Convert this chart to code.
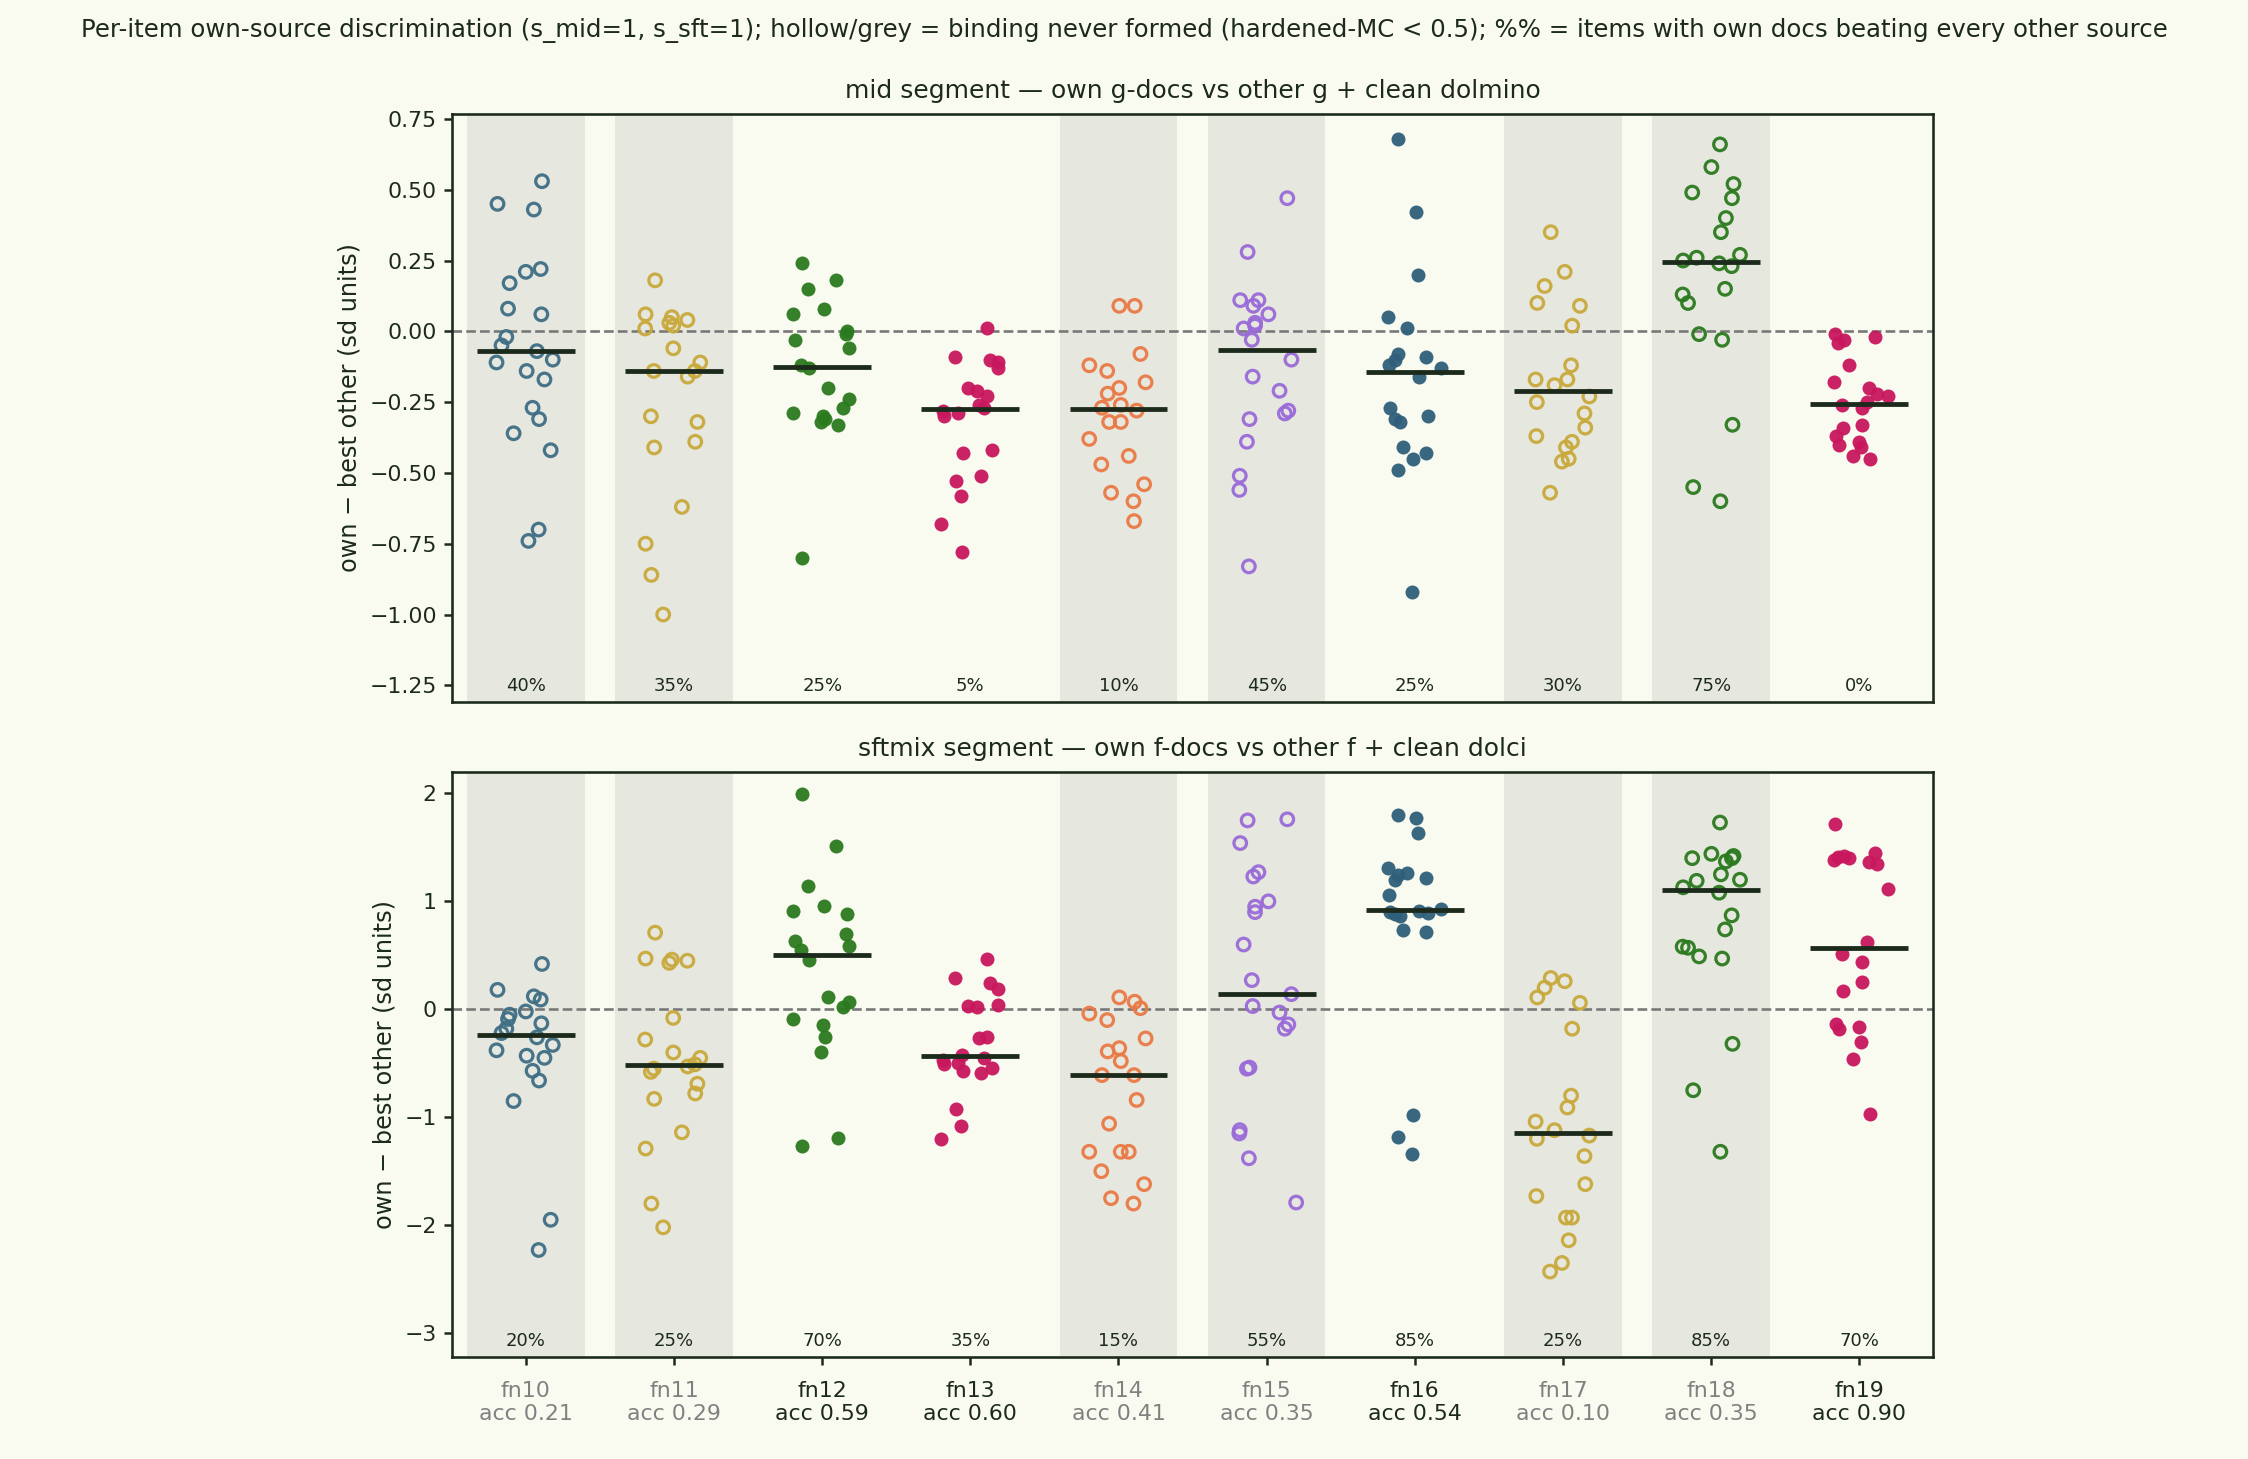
import numpy as np, pandas as pd, matplotlib
matplotlib.use("Agg")
import matplotlib.pyplot as plt, seaborn as sns

fns = ["fn10","fn11","fn12","fn13","fn14","fn15","fn16","fn17","fn18","fn19"]
accs = [0.21,0.29,0.59,0.60,0.41,0.35,0.54,0.10,0.35,0.90]
formed = [False,False,True,True,False,False,True,False,False,True]
colors = ["#3f6e85","#c9a93c","#2a7a1e","#c8175d","#ea7a45","#9a6bd8","#2f5f7a","#c9a93c","#2a7a1e","#c8175d"]
mid_pct = [40,35,25,5,10,45,25,30,75,0]
sft_pct = [20,25,70,35,15,55,85,25,85,70]

mid_vals = {
 "fn10":[0.53,0.45,0.43,0.22,0.21,0.17,0.08,0.06,-0.02,-0.05,-0.07,-0.10,-0.11,-0.14,-0.17,-0.27,-0.31,-0.36,-0.42,-0.70,-0.74],
 "fn11":[0.18,0.06,0.05,0.04,0.03,0.02,0.01,-0.06,-0.11,-0.14,-0.16,-0.30,-0.32,-0.39,-0.41,-0.62,-0.75,-0.86,-1.00,-0.14],
 "fn12":[0.24,0.18,0.15,0.08,0.06,-0.00,-0.01,-0.03,-0.06,-0.12,-0.13,-0.20,-0.24,-0.27,-0.29,-0.30,-0.31,-0.32,-0.33,-0.80],
 "fn13":[0.01,-0.09,-0.10,-0.11,-0.13,-0.20,-0.21,-0.23,-0.26,-0.27,-0.28,-0.29,-0.30,-0.42,-0.43,-0.51,-0.53,-0.58,-0.68,-0.78],
 "fn14":[0.09,0.09,-0.08,-0.12,-0.14,-0.18,-0.20,-0.22,-0.26,-0.27,-0.28,-0.32,-0.32,-0.38,-0.44,-0.47,-0.54,-0.57,-0.60,-0.67],
 "fn15":[0.47,0.28,0.11,0.11,0.09,0.06,0.03,0.02,0.01,-0.03,-0.10,-0.16,-0.21,-0.28,-0.29,-0.31,-0.39,-0.51,-0.56,-0.83],
 "fn16":[0.68,0.42,0.20,0.05,0.01,-0.08,-0.09,-0.10,-0.12,-0.13,-0.16,-0.27,-0.30,-0.31,-0.32,-0.41,-0.43,-0.45,-0.49,-0.92],
 "fn17":[0.35,0.21,0.16,0.10,0.09,0.02,-0.12,-0.17,-0.17,-0.19,-0.23,-0.25,-0.29,-0.34,-0.37,-0.39,-0.41,-0.45,-0.46,-0.57],
 "fn18":[0.66,0.58,0.52,0.49,0.47,0.40,0.35,0.27,0.26,0.25,0.24,0.23,0.15,0.13,0.10,-0.01,-0.03,-0.33,-0.55,-0.60],
 "fn19":[-0.01,-0.02,-0.03,-0.04,-0.12,-0.18,-0.20,-0.22,-0.23,-0.25,-0.26,-0.27,-0.33,-0.34,-0.37,-0.39,-0.40,-0.41,-0.44,-0.45],
}
sft_vals = {
 "fn10":[0.42,0.18,0.12,0.09,-0.02,-0.05,-0.09,-0.13,-0.18,-0.22,-0.26,-0.33,-0.38,-0.43,-0.45,-0.57,-0.66,-0.85,-1.95,-2.23],
 "fn11":[0.71,0.47,0.46,0.45,0.43,-0.08,-0.28,-0.40,-0.45,-0.51,-0.53,-0.58,-0.69,-0.78,-0.83,-1.14,-1.29,-1.80,-2.02,-0.55],
 "fn12":[1.99,1.51,1.14,0.96,0.91,0.88,0.70,0.63,0.59,0.55,0.46,0.11,0.07,0.02,-0.09,-0.15,-0.26,-0.40,-1.19,-1.27],
 "fn13":[0.47,0.29,0.24,0.19,0.04,0.03,0.02,-0.26,-0.27,-0.45,-0.47,-0.50,-0.51,-0.54,-0.57,-0.59,-0.92,-1.08,-1.20,-0.42],
 "fn14":[0.11,0.07,0.01,-0.04,-0.10,-0.27,-0.36,-0.39,-0.48,-0.61,-0.84,-1.06,-1.32,-1.32,-1.32,-1.50,-1.62,-1.75,-1.80,-0.61],
 "fn15":[1.76,1.75,1.54,1.27,1.23,1.00,0.95,0.90,0.60,0.27,0.14,0.03,-0.03,-0.14,-0.18,-0.54,-0.55,-1.12,-1.15,-1.38,-1.79],
 "fn16":[1.80,1.77,1.63,1.31,1.26,1.24,1.22,1.20,1.06,0.93,0.91,0.90,0.89,0.88,0.86,0.73,0.72,-0.98,-1.18,-1.34],
 "fn17":[0.29,0.26,0.20,0.11,0.06,-0.18,-0.80,-0.91,-1.04,-1.12,-1.17,-1.20,-1.36,-1.62,-1.73,-1.93,-1.93,-2.14,-2.35,-2.43],
 "fn18":[1.73,1.44,1.42,1.40,1.40,1.37,1.25,1.20,1.19,1.13,1.08,0.87,0.74,0.58,0.57,0.49,0.47,-0.32,-0.75,-1.32],
 "fn19":[1.72,1.45,1.42,1.41,1.40,1.38,1.36,1.35,1.11,0.62,0.51,0.44,0.25,0.17,-0.14,-0.16,-0.18,-0.30,-0.46,-0.97],
}

BG = "#f9faf0"; DARK = "#1c2a1c"
sns.set_theme(style="white")
plt.rcParams["font.family"] = ["DejaVu Sans"]
fig = plt.figure(figsize=(2248/144, 1459/144), dpi=144, facecolor=BG)
ax1 = fig.add_axes([0.201, 0.519, 0.659, 0.403])
ax2 = fig.add_axes([0.201, 0.070, 0.659, 0.401])

def panel(ax, vals, pct, title, ylim, yticks, ytl):
    ax.set_facecolor(BG)
    for i, f in enumerate(fns):
        if not formed[i]:
            ax.axvspan(i-0.39, i+0.39, color="#e6e7df", zorder=0)
    ax.axhline(0, color="#777777", ls="--", lw=1.3, zorder=1)
    hollow = []
    for i, f in enumerate(fns):
        df = pd.DataFrame({"fn": f, "v": vals[f]})
        np.random.seed(i + 10)
        before = set(ax.collections)
        sns.stripplot(data=df, x="fn", y="v", order=fns, ax=ax, color=colors[i],
                      jitter=0.2, size=7 if formed[i] else 6.3, alpha=0.95, linewidth=0, zorder=3)
        if not formed[i]:
            hollow += [(c, colors[i]) for c in ax.collections if c not in before]
        med = np.median(vals[f])
        ax.hlines(med, i-0.33, i+0.33, color=DARK, lw=2.4, zorder=4)
        ax.text(i, ylim[0] + 0.012*(ylim[1]-ylim[0]), f"{pct[i]}%", ha="center", va="bottom",
                fontsize=9, color=DARK)
    for c, col in hollow:
        c.set_facecolor("none"); c.set_edgecolor(col); c.set_linewidth(1.6)
    ax.set_xlim(-0.5, 9.5); ax.set_ylim(*ylim)
    ax.set_yticks(yticks); ax.set_yticklabels(ytl, fontsize=11, color=DARK)
    ax.set_ylabel("own − best other (sd units)", fontsize=12, color=DARK)
    ax.set_xlabel("")
    ax.set_title(title, fontsize=12.5, color=DARK, pad=8)
    for s in ax.spines.values():
        s.set_color(DARK); s.set_linewidth(1.3)
    ax.tick_params(axis="y", length=4, color=DARK, left=True)

yt1 = [0.75,0.5,0.25,0.0,-0.25,-0.5,-0.75,-1.0,-1.25]
panel(ax1, mid_vals, mid_pct, "mid segment — own g-docs vs other g + clean dolmino", (-1.308, 0.768),
      yt1, [f"{v:.2f}".replace("-", "−") for v in yt1])
yt2 = [2,1,0,-1,-2,-3]
panel(ax2, sft_vals, sft_pct, "sftmix segment — own f-docs vs other f + clean dolci", (-3.22, 2.20),
      yt2, [str(v).replace("-", "−") for v in yt2])
ax1.set_xticks(range(10)); ax1.set_xticklabels([])
ax1.tick_params(axis="x", bottom=False)
ax2.set_xticks(range(10))
ax2.set_xticklabels([f"{f}\nacc {a:.2f}" for f, a in zip(fns, accs)], fontsize=11)
ax2.tick_params(axis="x", bottom=True, length=4, color=DARK, pad=8)
for lab, fm in zip(ax2.get_xticklabels(), formed):
    lab.set_color(DARK if fm else "#808080")
fig.suptitle("Per-item own-source discrimination (s_mid=1, s_sft=1); hollow/grey = binding never formed (hardened-MC < 0.5); %% = items with own docs beating every other source",
             fontsize=12.2, color=DARK, y=0.988)
fig.savefig("out.png", dpi=144, facecolor=BG)
